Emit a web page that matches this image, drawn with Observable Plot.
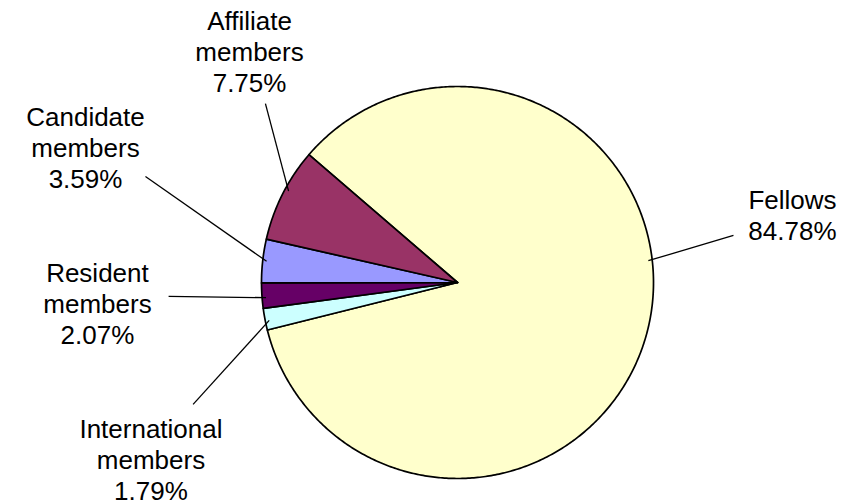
<!DOCTYPE html>
<html><head><meta charset="utf-8">
<script src="https://cdn.jsdelivr.net/npm/d3@7"></script>
<script src="https://cdn.jsdelivr.net/npm/@observablehq/plot@0.6"></script>
<style>body{margin:0;background:#fff}</style>
</head><body><div id="chart"></div>
<script>
// ---- data ----
const categories = ["Fellows", "International members", "Resident members", "Candidate members", "Affiliate members"];
const shares = [84.78, 1.79, 2.07, 3.59, 7.75];
const sliceColors = ["#FFFFCC", "#CCFFFF", "#660066", "#9999FF", "#993366"];

// ---- layout (label placement, in units of the pie radius) ----
const startDeg = -49.3;
const labelAt = [[1.709, 0.345], [-1.564, -0.902], [-1.837, -0.106], [-1.898, 0.690], [-1.061, 1.180]];
const leaderFrom = [[1.408, 0.240], [-1.349, -0.622], [-1.474, -0.071], [-1.592, 0.541], [-0.980, 0.913]];
const leaderFrac = [0.435, 0.41, 0.41, 0.5, 0.56];
const leaderR = 0.98;

const start = startDeg * Math.PI / 180;
const arcs = d3.pie().sort(null).startAngle(start).endAngle(start + 2 * Math.PI)(shares);

const pts = [];
arcs.forEach((a, i) => {
  const name = categories[i];
  pts.push({name, u: 0, v: 0});
  const n = Math.max(4, Math.ceil((a.endAngle - a.startAngle) / 0.01));
  for (let k = 0; k <= n; k++) {
    const t = a.startAngle + (a.endAngle - a.startAngle) * k / n;
    pts.push({name, u: Math.sin(t), v: Math.cos(t)});
  }
  pts.push({name, u: 0, v: 0});
});

const leaders = arcs.map((a, i) => {
  const t = a.startAngle + (a.endAngle - a.startAngle) * leaderFrac[i];
  return {x1: leaderFrom[i][0], y1: leaderFrom[i][1], x2: leaderR * Math.sin(t), y2: leaderR * Math.cos(t)};
});

const labels = categories.map((c, i) => ({
  x: labelAt[i][0], y: labelAt[i][1],
  text: c.replace(" ", "\n") + "\n" + d3.format(".2f")(shares[i]) + "%"
}));

const chart = Plot.plot({
  width: 856, height: 500,
  marginLeft: 261, marginRight: 203, marginTop: 86, marginBottom: 22,
  x: {domain: [-1, 1], axis: null},
  y: {domain: [-1, 1], axis: null},
  color: {domain: categories, range: sliceColors},
  style: {fontFamily: "'Liberation Sans', Arial, sans-serif", background: "white", overflow: "visible"},
  marks: [
    Plot.line(pts, {x: "u", y: "v", z: "name", fill: "name", stroke: "black", strokeWidth: 1.7, strokeLinejoin: "round"}),
    Plot.link(leaders, {x1: "x1", y1: "y1", x2: "x2", y2: "y2", stroke: "black", strokeWidth: 1.3}),
    Plot.text(labels, {x: "x", y: "y", text: "text", fontSize: 26, lineHeight: 1.2, textAnchor: "middle", lineAnchor: "middle", fill: "black"})
  ]
});
document.getElementById("chart").appendChild(chart);
</script>
</body></html>
